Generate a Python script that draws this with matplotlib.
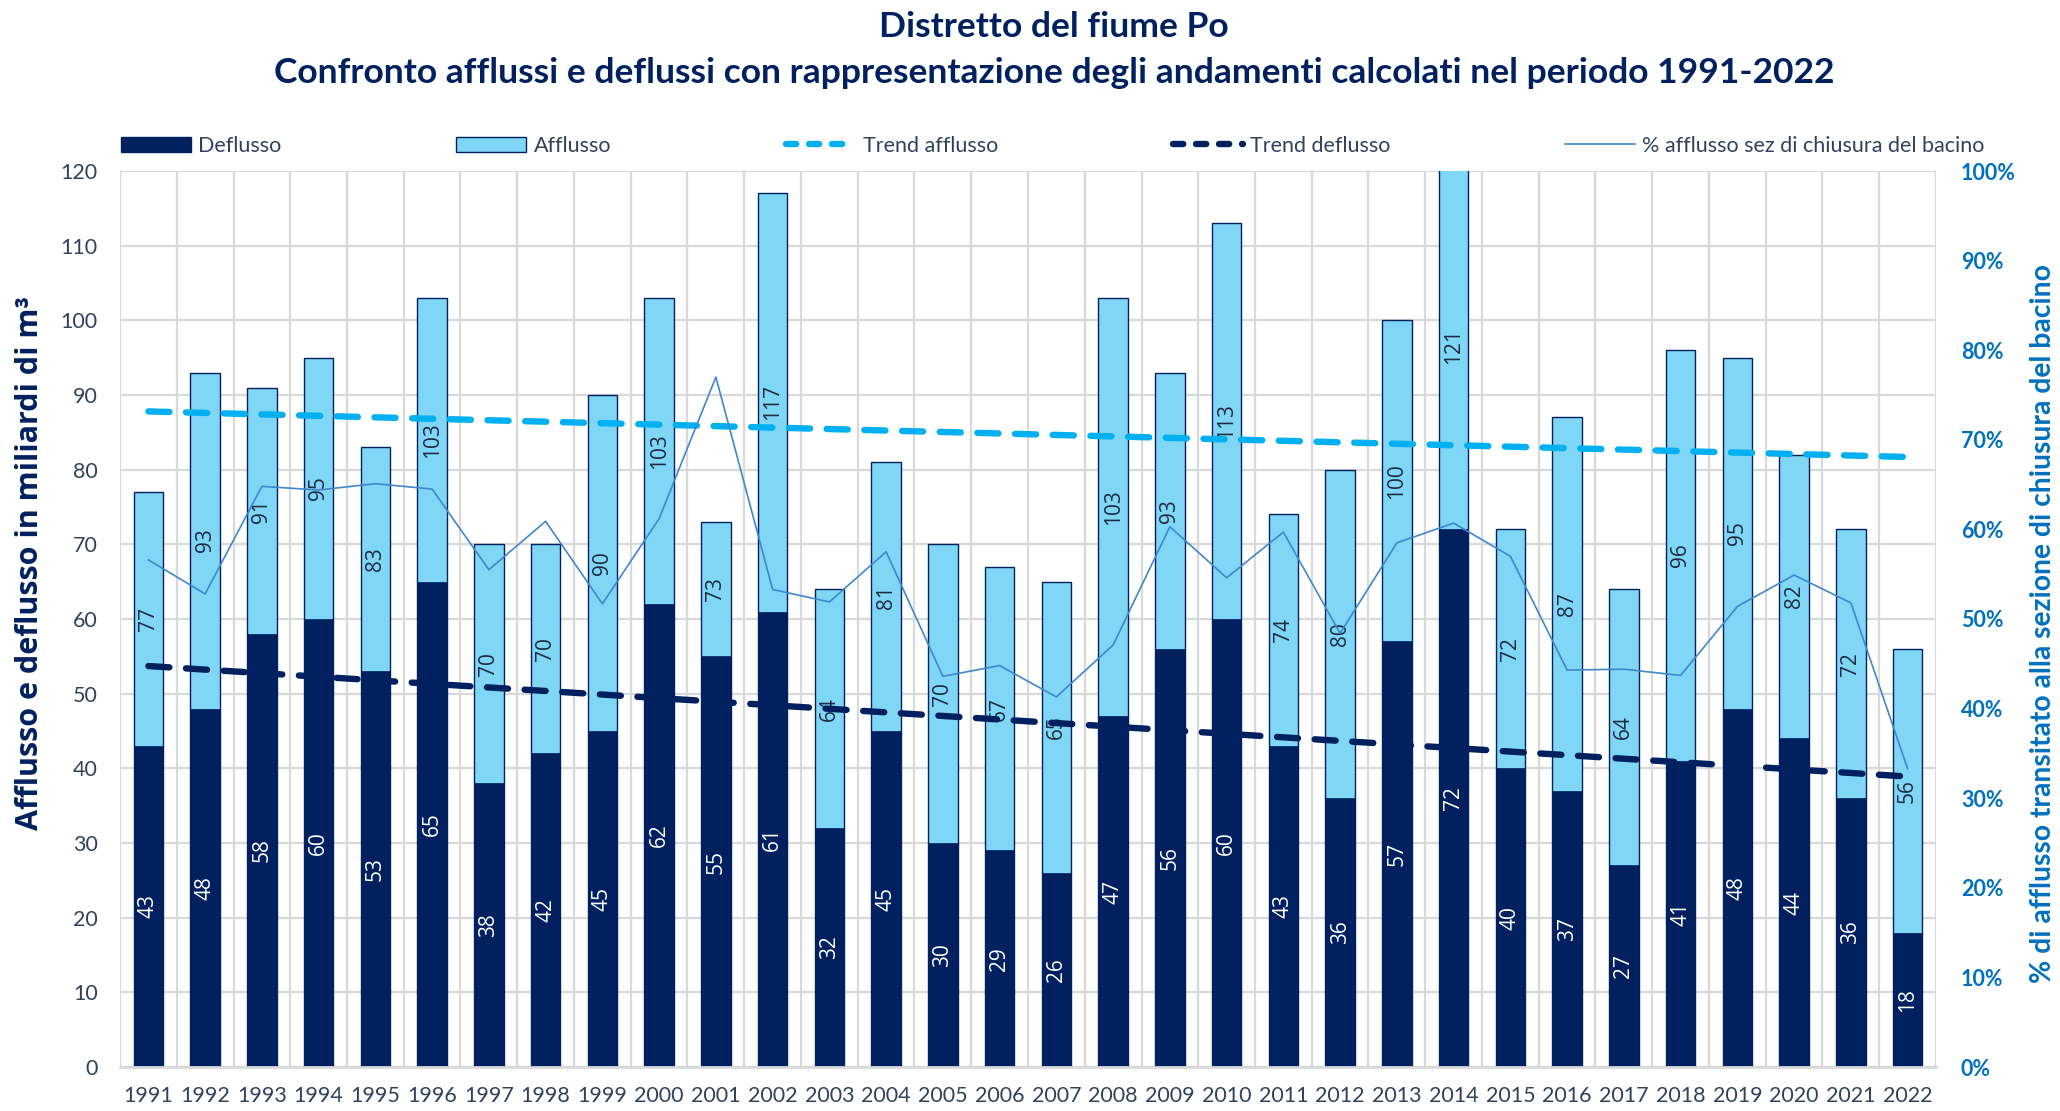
import numpy as np
import matplotlib.pyplot as plt
from matplotlib.patches import Patch
from matplotlib.lines import Line2D
from matplotlib.ticker import PercentFormatter, MultipleLocator

plt.rcParams['font.family'] = ['Lato', 'DejaVu Sans']

# dati annuali (miliardi di m3)
anni = list(range(1991, 2023))
deflusso = [43, 48, 58, 60, 53, 65, 38, 42, 45, 62, 55, 61, 32, 45, 30, 29,
            26, 47, 56, 60, 43, 36, 57, 72, 40, 37, 27, 41, 48, 44, 36, 18]
afflusso = [77, 93, 91, 95, 83, 103, 70, 70, 90, 103, 73, 117, 64, 81, 70, 67,
            65, 103, 93, 113, 74, 80, 100, 121, 72, 87, 64, 96, 95, 82, 72, 56]
# % afflusso transitato alla sezione di chiusura
perc_chiusura = [56.6, 52.8, 64.8, 64.4, 65.1, 64.5, 55.5, 60.9, 51.7, 61.2, 77.0,
                 53.3, 51.9, 57.5, 43.6, 44.8, 41.3, 47.1, 60.3, 54.6, 59.7, 48.4,
                 58.5, 60.7, 57.0, 44.3, 44.4, 43.7, 51.4, 54.9, 51.8, 33.3]
# linee di tendenza (valori a inizio e fine periodo)
trend_anni = [1991, 2022]
trend_afflusso = [87.8, 81.7]
trend_deflusso = [53.7, 38.9]

NAVY = '#002060'
AZZURRO = '#7FD6F5'
CIANO = '#00B0F0'
BLU = '#0070C0'
LINEA_PERC = '#3F88CF'
TESTO = '#34405E'
GRIGLIA = '#D9D9D9'

fig = plt.figure(figsize=(20.6, 11.11), dpi=100)
ax = fig.add_axes([120/2060, 1 - 1067/1111, 1816/2060, 896/1111])

x = np.arange(len(anni))
pos = {a: i for i, a in enumerate(anni)}

ax.bar(x, afflusso, width=0.52, color=AZZURRO, edgecolor=NAVY, linewidth=1.0, zorder=2)
ax.bar(x, deflusso, width=0.52, color=NAVY, edgecolor=NAVY, linewidth=0.5, zorder=2)

# etichette dei valori
for i in range(len(anni)):
    ax.text(x[i], deflusso[i] / 2, str(deflusso[i]), rotation=90, ha='center', va='center',
            color='white', fontsize=15, family=['Open Sans', 'DejaVu Sans'], zorder=3)
    ax.text(x[i], (deflusso[i] + afflusso[i]) / 2, str(afflusso[i]), rotation=90,
            ha='center', va='center', color='#1F2A44', fontsize=15,
            family=['Open Sans', 'DejaVu Sans'], zorder=3)

tx = [pos[a] for a in trend_anni]
ax.plot(tx, trend_afflusso, color=CIANO, lw=4.6, dashes=(3.3, 2.6), dash_capstyle='round', zorder=4)
ax.plot(tx, trend_deflusso, color=NAVY, lw=4.6, dashes=(3.3, 2.6), dash_capstyle='round', zorder=4)

ax.set_xlim(-0.5, len(anni) - 0.5)
ax.set_ylim(0, 120)
ax.yaxis.set_major_locator(MultipleLocator(10))
ax.set_xticks(x)
ax.set_xticklabels(anni)
ax.set_xticks(np.arange(-0.5, len(anni), 1), minor=True)
ax.grid(axis='y', which='major', color=GRIGLIA, lw=1.6)
ax.grid(axis='x', which='minor', color=GRIGLIA, lw=1.6)
ax.set_axisbelow(True)
ax.tick_params(axis='both', which='both', length=0, labelsize=15.5, labelcolor=TESTO)
ax.tick_params(axis='x', pad=14)
ax.tick_params(axis='y', pad=16)
for s in ['top', 'left', 'right']:
    ax.spines[s].set_visible(False)
ax.spines['bottom'].set_color(GRIGLIA)
ax.spines['bottom'].set_linewidth(2)

ax.set_ylabel('Afflusso e deflusso in miliardi di m³', fontsize=22, weight='bold', color=NAVY,
              family=['Open Sans', 'DejaVu Sans'])
ax.yaxis.set_label_coords(-0.0413, 0.563)

# asse secondario per la percentuale
ax2 = ax.twinx()
ax2.plot(x, np.array(perc_chiusura) / 100, color=LINEA_PERC, lw=1.2, zorder=5)
ax2.set_ylim(0, 1)
ax2.yaxis.set_major_locator(MultipleLocator(0.1))
ax2.yaxis.set_major_formatter(PercentFormatter(1.0, decimals=0))
ax2.tick_params(axis='y', length=0, pad=18, labelsize=15.5, labelcolor=BLU)
for t in ax2.get_yticklabels():
    t.set_fontweight('bold')
for s in ax2.spines.values():
    s.set_visible(False)
ax2.set_ylabel('% di afflusso transitato alla sezione di chiusura del bacino', fontsize=20.3,
               weight='bold', color=BLU, rotation=90)
ax2.yaxis.set_label_coords(1.0515, 0.495)

# legenda
handles = [
    Patch(facecolor=NAVY, edgecolor=NAVY),
    Patch(facecolor=AZZURRO, edgecolor=NAVY),
    Line2D([], [], color=CIANO, lw=4.6, dashes=(1.6, 2.0), dash_capstyle='round'),
    Line2D([], [], color=NAVY, lw=4.6, dashes=(1.6, 2.0), dash_capstyle='round'),
    Line2D([], [], color=LINEA_PERC, lw=1.2),
]
labels = ['Deflusso', 'Afflusso', 'Trend afflusso', 'Trend deflusso',
          '% afflusso sez di chiusura del bacino']
fig.legend(handles, labels, loc='center left', bbox_to_anchor=(121/2060, 1 - 146/1111),
           ncol=5, frameon=False, fontsize=15.5, labelcolor=TESTO, handlelength=3.25,
           handleheight=0.7, handletextpad=0.35, columnspacing=8.1, borderpad=0,
           borderaxespad=0)

fig.text(1054/2060, 1 - 27/1111, 'Distretto del fiume Po', ha='center', va='center',
         fontsize=25.5, weight='bold', color=NAVY)
fig.text(1054/2060, 1 - 73/1111,
         'Confronto afflussi e deflussi con rappresentazione degli andamenti calcolati nel periodo 1991-2022',
         ha='center', va='center', fontsize=25.5, weight='bold', color=NAVY)

fig.savefig('out.png', dpi=100)
